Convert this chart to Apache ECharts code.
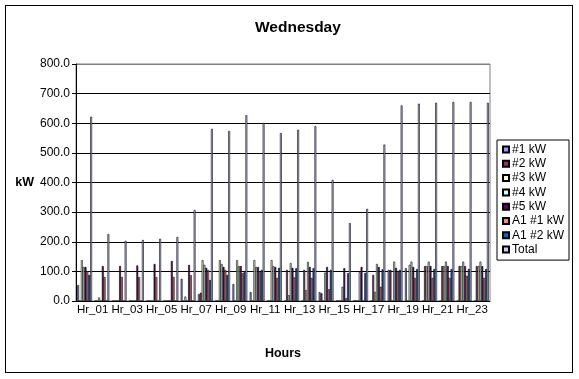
<!DOCTYPE html>
<html>
<head>
<meta charset="utf-8">
<script src="https://cdn.jsdelivr.net/npm/echarts@6/dist/echarts.min.js"></script>
<style>
  body { margin: 0; background: #fff; }
  #chart { width: 579px; height: 379px; }
  #frame { position: absolute; left: 5px; top: 5px; width: 568px; height: 368px;
           border: 1px solid #000; box-sizing: border-box; pointer-events: none; }
</style>
</head>
<body>
<div id="chart"></div>
<div id="frame"></div>
<script>
// hours on the x axis
var hours = ['Hr_01','Hr_02','Hr_03','Hr_04','Hr_05','Hr_06','Hr_07','Hr_08','Hr_09','Hr_10','Hr_11','Hr_12',
             'Hr_13','Hr_14','Hr_15','Hr_16','Hr_17','Hr_18','Hr_19','Hr_20','Hr_21','Hr_22','Hr_23','Hr_24'];

// kW per unit
var unit1  = [54, 0, 0, 0, 0, 0, 75, 23, 0, 57, 30, 0, 0, 0, 30, 0, 0, 0, 105, 111, 0, 0, 0, 0];
var unit2  = [0, 0, 0, 0, 0, 0, 0, 28, 0, 0, 0, 0, 105, 105, 26, 0, 0, 88, 105, 0, 118, 118, 118, 118];
var unit3  = [138, 12, 0, 0, 0, 0, 15, 138, 138, 138, 138, 138, 20, 37, 0, 0, 0, 31, 0, 122, 118, 118, 118, 118];
var unit4  = [115, 0, 0, 0, 0, 0, 0, 122, 125, 118, 115, 118, 128, 132, 96, 48, 97, 125, 133, 133, 133, 133, 133, 133];
var unit5  = [115, 118, 118, 120, 125, 135, 122, 112, 115, 118, 115, 115, 112, 115, 115, 111, 115, 115, 112, 115, 118, 118, 118, 118];
var a1u1   = [100, 81, 81, 81, 81, 81, 87, 105, 105, 94, 100, 78, 80, 78, 40, 10, 0, 48, 100, 78, 78, 78, 85, 78];
var a1u2   = [88, 0, 0, 0, 0, 0, 0, 71, 88, 101, 105, 112, 111, 111, 105, 94, 95, 107, 105, 108, 108, 108, 108, 108];
var total  = [622, 226, 203, 206, 210, 216, 307, 581, 574, 627, 601, 567, 578, 590, 409, 263, 311, 528, 660, 666, 669, 672, 672, 669];

var yTicks = ['0.0','100.0','200.0','300.0','400.0','500.0','600.0','700.0','800.0'];

var names  = ['#1 kW', '#2 kW', '#3 kW', '#4 kW', '#5 kW', 'A1 #1 kW', 'A1 #2 kW', 'Total'];
var colors = ['#9999FF', '#993366', '#FFFFCC', '#CCFFFF', '#660066', '#FF8080', '#0066CC', '#CCCCFF'];
var values = [unit1, unit2, unit3, unit4, unit5, a1u1, a1u2, total];

var font = 'Liberation Sans, Arial, sans-serif';
var chart = echarts.init(document.getElementById('chart'));

var series = names.map(function (n, i) {
  return {
    name: n,
    type: 'bar',
    data: values[i],
    barGap: '0%',
    barCategoryGap: '14%',
    itemStyle: { color: colors[i], borderColor: '#000', borderWidth: 0.6 },
    animation: false
  };
});

chart.setOption({
  animation: false,
  textStyle: { fontFamily: font },
  title: {
    text: 'Wednesday',
    left: 250,
    top: 15,
    textStyle: { fontFamily: font, fontSize: 15.5, fontWeight: 'bold', color: '#000' }
  },
  legend: {
    orient: 'vertical',
    left: 497,
    top: 140,
    data: names,
    icon: 'rect',
    itemWidth: 6,
    itemHeight: 6,
    itemGap: 1.3,
    padding: [3, 5, 4, 5],
    borderColor: '#000',
    borderWidth: 1,
    textStyle: { fontFamily: font, fontSize: 12, color: '#000', lineHeight: 13, padding: [0, 0, 0, -2] }
  },
  grid: {
    left: 76, right: 89, top: 64, bottom: 78,
    show: true, borderColor: '#808080', borderWidth: 1
  },
  xAxis: {
    type: 'category',
    data: hours,
    name: 'Hours',
    nameLocation: 'middle',
    nameGap: 46,
    nameTextStyle: { fontFamily: font, fontSize: 12.5, fontWeight: 'bold', color: '#000' },
    axisLine: { lineStyle: { color: '#000', width: 1 } },
    axisTick: { interval: 1, length: 4, lineStyle: { color: '#000' } },
    axisLabel: {
      interval: 1,
      margin: 3,
      color: '#000',
      formatter: function (v) { return '{a|' + v + '}'; },
      rich: { a: { fontFamily: font, fontSize: 11.5, color: '#000', padding: [0, 0, 0, 16] } }
    }
  },
  yAxis: {
    type: 'value',
    min: 0,
    max: 800,
    interval: 100,
    name: 'kW',
    nameLocation: 'middle',
    nameRotate: 0,
    nameGap: 40,
    nameTextStyle: { fontFamily: font, fontSize: 12.5, fontWeight: 'bold', color: '#000' },
    axisLine: { show: true, lineStyle: { color: '#000', width: 1 } },
    axisTick: { show: true, length: 4, lineStyle: { color: '#000' } },
    axisLabel: {
      margin: 6,
      color: '#000',
      fontSize: 12,
      formatter: function (v) { return yTicks[v / 100]; }
    },
    splitLine: {
      lineStyle: { color: ['#000', '#000', '#000', '#000', '#000', '#000', '#000', '#000', '#808080'], width: 1 }
    }
  },
  series: series
});
</script>
</body>
</html>
